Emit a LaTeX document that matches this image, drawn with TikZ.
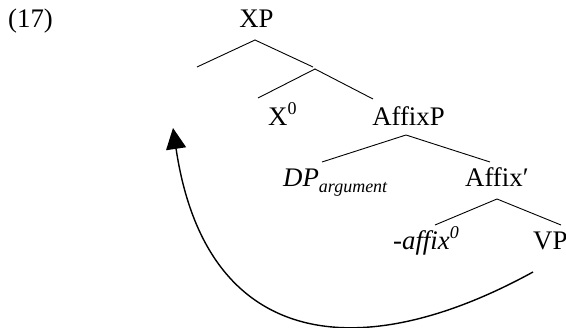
\documentclass[tikz,border=0pt]{standalone}
\usepackage{fontspec}
\setmainfont{Liberation Serif}
\usetikzlibrary{arrows.meta}
\newcommand\mysup[1]{\raisebox{0.42em}{\fontsize{18}{18}\selectfont #1}}
\newcommand\mysub[1]{\raisebox{-0.21em}{\fontsize{18}{18}\selectfont #1}}
\begin{document}
\begin{tikzpicture}[x=1pt,y=-1pt,
  lbl/.style={anchor=base, inner sep=0pt, font=\fontsize{26.8}{30}\selectfont},
  branch/.style={line width=0.9pt},
  mv/.style={line width=1.4pt, -{Triangle[length=21pt,width=20pt]}}]
\useasboundingbox (0,0) rectangle (566,328);
% labels
\node[lbl, anchor=base west] (ex) at (8,28) {(17)};
\node[lbl] (xp) at (256.5,28) {XP};
\node[lbl, anchor=base west] (x0) at (268,126) {X\mysup{0}};
\node[lbl] (affixp) at (408.5,126) {AffixP};
\node[lbl, anchor=base west] (dp) at (283,187) {\textit{DP\mysub{argument}}};
\node[lbl, anchor=base west] (affixbar) at (465,187) {Affix′};
\node[lbl, anchor=base west] (affix0) at (393,250) {\textit{-affix\mysup{0}}};
\node[lbl, anchor=base west] (vp) at (533,250) {VP};
% branch points
\coordinate (a1) at (255,40);  \coordinate (l1) at (197,67);  \coordinate (r1) at (313,67);
\coordinate (a2) at (315,69);  \coordinate (l2) at (258,98);  \coordinate (r2) at (373,99);
\coordinate (a3) at (406,135); \coordinate (l3) at (322,162); \coordinate (r3) at (490,162);
\coordinate (a4) at (497,199); \coordinate (l4) at (435,225); \coordinate (r4) at (561,225);
\draw[branch] (l1) -- (a1) -- (r1);
\draw[branch] (l2) -- (a2) -- (r2);
\draw[branch] (l3) -- (a3) -- (r3);
\draw[branch] (l4) -- (a4) -- (r4);
% movement arrow
\coordinate (s) at (533,272);
\coordinate (t) at (173,128);
\draw[mv] (s) .. controls (360,367) and (206,350) .. (t);
\end{tikzpicture}
\end{document}
